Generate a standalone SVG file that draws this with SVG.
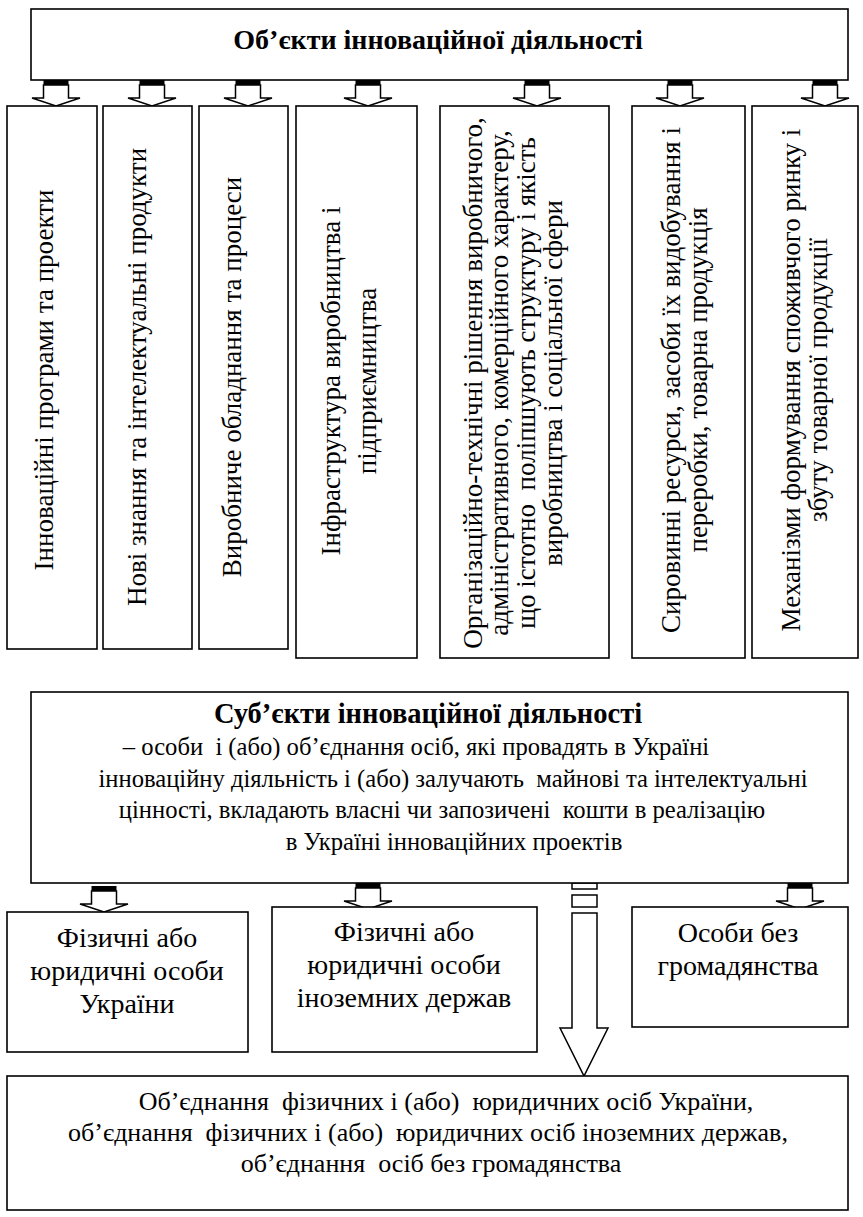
<svg xmlns="http://www.w3.org/2000/svg" width="863" height="1217" viewBox="0 0 863 1217">
<style>
.box{fill:#fff;stroke:#000;stroke-width:1.6}
.t{font-family:"Liberation Serif","Times New Roman",serif;font-size:28px;fill:#000;white-space:pre}
.v{font-size:27px;text-anchor:middle}
.s{font-size:24.6px}
.u{font-size:26px}
.b{font-weight:bold}
.m{text-anchor:middle}
.arr{fill:#fff;stroke:#000;stroke-width:1.5;stroke-linejoin:miter}
</style>
<defs>
<g id="sa">
<rect x="-12.5" y="0" width="25" height="5" fill="#000"/>
<path class="arr" d="M-12.5,5 L12.5,5 L12.5,18 L24,18 L0,26 L-24,18 L-12.5,18 Z"/>
</g>
</defs>
<rect width="863" height="1217" fill="#fff"/>
<g id="top">
<rect class="box" x="31" y="9" width="817" height="71"/>
<text class="t b m" x="438" y="49">Об’єкти інноваційної діяльності</text>
</g>
<g id="connectors">
<use href="#sa" x="56" y="80"/>
<use href="#sa" x="152" y="80"/>
<use href="#sa" x="248" y="80"/>
<use href="#sa" x="368" y="80"/>
<use href="#sa" x="537" y="80"/>
<use href="#sa" x="680" y="80"/>
<use href="#sa" x="825" y="80"/>
<use href="#sa" x="104" y="886"/>
<use href="#sa" x="368" y="883"/>
<use href="#sa" x="800" y="883"/>
<rect class="arr" x="572" y="883" width="25" height="6"/>
<rect class="arr" x="572" y="895" width="25" height="12"/>
<path class="arr" d="M572,913 L597,913 L597,1028 L608,1028 L584,1076 L560,1028 L572,1028 Z"/>
</g>
<g id="o1">
<rect class="box" x="7" y="106" width="90" height="543"/>
<text class="t v" transform="translate(53,380) rotate(-90)">Інноваційні програми та проекти</text>
</g>
<g id="o2">
<rect class="box" x="103" y="106" width="89" height="543"/>
<text class="t v" transform="translate(146,377) rotate(-90)">Нові знання та інтелектуальні продукти</text>
</g>
<g id="o3">
<rect class="box" x="199" y="106" width="89" height="543"/>
<text class="t v" transform="translate(241,377) rotate(-90)">Виробниче обладнання та процеси</text>
</g>
<g id="o4">
<rect class="box" x="296" y="106" width="121" height="552"/>
<text class="t v" transform="translate(340,381) rotate(-90)">Інфраструктура виробництва і</text>
<text class="t v" transform="translate(376,381) rotate(-90)">підприємництва</text>
</g>
<g id="o5">
<rect class="box" x="440" y="106" width="169" height="552"/>
<text class="t v" transform="translate(482,383) rotate(-90)">Організаційно-технічні рішення виробничого,</text>
<text class="t v" transform="translate(508,383) rotate(-90)">адміністративного, комерційного характеру,</text>
<text class="t v" transform="translate(535,383) rotate(-90)">що істотно  поліпшують структуру і якість</text>
<text class="t v" transform="translate(562,383) rotate(-90)">виробництва і соціальної сфери</text>
</g>
<g id="o6">
<rect class="box" x="632" y="106" width="113" height="552"/>
<text class="t v" transform="translate(680,380) rotate(-90)">Сировинні ресурси, засоби їх видобування і</text>
<text class="t v" transform="translate(707,380) rotate(-90)">переробки, товарна продукція</text>
</g>
<g id="o7">
<rect class="box" x="752" y="106" width="106" height="552"/>
<text class="t v" transform="translate(800,380) rotate(-90)">Механізми формування споживчого ринку і</text>
<text class="t v" transform="translate(827,380) rotate(-90)">збуту товарної продукції</text>
</g>
<g id="subj">
<rect class="box" x="31" y="692" width="817" height="191"/>
<text class="t b m" x="428" y="723" style="font-size:28.5px">Суб’єкти інноваційної діяльності</text>
<text class="t s m" x="416" y="755">– особи  і (або) об’єднання осіб, які провадять в Україні</text>
<text class="t s m" x="453" y="787">інноваційну діяльність і (або) залучають  майнові та інтелектуальні</text>
<text class="t s m" x="442" y="818">цінності, вкладають власні чи запозичені  кошти в реалізацію</text>
<text class="t s m" x="454" y="850">в Україні інноваційних проектів</text>
</g>
<g id="s1">
<rect class="box" x="7" y="912" width="241" height="140"/>
<text class="t m" x="127" y="947">Фізичні або</text>
<text class="t m" x="127" y="980">юридичні особи</text>
<text class="t m" x="127" y="1013">України</text>
</g>
<g id="s2">
<rect class="box" x="272" y="907" width="265" height="145"/>
<text class="t m" x="404" y="941">Фізичні або</text>
<text class="t m" x="404" y="974">юридичні особи</text>
<text class="t m" x="404" y="1007">іноземних держав</text>
</g>
<g id="s3">
<rect class="box" x="632" y="907" width="216" height="120"/>
<text class="t m" x="738" y="942">Особи без</text>
<text class="t m" x="738" y="975">громадянства</text>
</g>
<g id="union">
<rect class="box" x="7" y="1076" width="841" height="134"/>
<text class="t u m" x="446" y="1110">Об’єднання  фізичних і (або)  юридичних осіб України,</text>
<text class="t u m" x="428" y="1141">об’єднання  фізичних і (або)  юридичних осіб іноземних держав,</text>
<text class="t u m" x="431" y="1172">об’єднання  осіб без громадянства</text>
</g>
</svg>
